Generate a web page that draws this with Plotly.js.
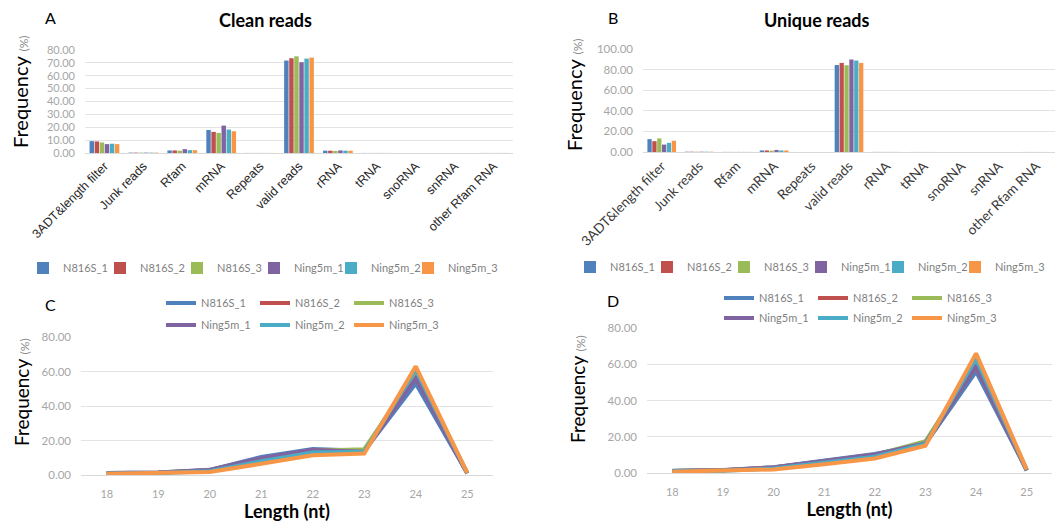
<!DOCTYPE html>
<html><head><meta charset="utf-8">
<script src="https://cdn.plot.ly/plotly-3.0.1.min.js"></script>
<style>html,body{margin:0;padding:0;background:#fff}#chart{width:1055px;height:525px}</style>
</head><body><div id="chart"></div>
<script>
const samples = ['N816S_1','N816S_2','N816S_3','Ning5m_1','Ning5m_2','Ning5m_3'];
const colors = ['#4F81BD','#C0504D','#9BBB59','#8064A2','#4BACC6','#F79646'];
const categories = ['3ADT&length filter','Junk reads','Rfam','mRNA','Repeats','valid reads','rRNA','tRNA','snoRNA','snRNA','other Rfam RNA'];
const lengths = ['18','19','20','21','22','23','24','25'];

// Panel A: clean reads (%)
const cleanN816S_1  = [9.2, 0.3, 2.0, 17.9, 0.05, 71.8, 1.8, 0.05, 0.02, 0.02, 0.05];
const cleanN816S_2  = [9.0, 0.3, 2.0, 16.4, 0.05, 73.6, 1.8, 0.05, 0.02, 0.02, 0.05];
const cleanN816S_3  = [8.2, 0.3, 1.8, 15.6, 0.05, 75.1, 1.6, 0.05, 0.02, 0.02, 0.05];
const cleanNing5m_1 = [6.9, 0.3, 3.0, 21.3, 0.05, 70.5, 2.0, 0.05, 0.02, 0.02, 0.05];
const cleanNing5m_2 = [7.2, 0.3, 2.2, 18.2, 0.05, 73.3, 1.8, 0.05, 0.02, 0.02, 0.05];
const cleanNing5m_3 = [6.9, 0.3, 2.2, 16.9, 0.05, 74.1, 1.8, 0.05, 0.02, 0.02, 0.05];

// Panel B: unique reads (%)
const uniqN816S_1  = [12.5, 0.3, 0.1, 1.5, 0.02, 84.5, 0.1, 0.05, 0.02, 0.02, 0.05];
const uniqN816S_2  = [10.5, 0.3, 0.1, 1.5, 0.02, 86.5, 0.1, 0.05, 0.02, 0.02, 0.05];
const uniqN816S_3  = [13.2, 0.3, 0.1, 1.3, 0.02, 84.2, 0.1, 0.05, 0.02, 0.02, 0.05];
const uniqNing5m_1 = [7.2, 0.3, 0.1, 2.0, 0.02, 89.8, 0.1, 0.05, 0.02, 0.02, 0.05];
const uniqNing5m_2 = [8.9, 0.3, 0.1, 1.5, 0.02, 88.8, 0.1, 0.05, 0.02, 0.02, 0.05];
const uniqNing5m_3 = [10.9, 0.3, 0.1, 1.5, 0.02, 86.5, 0.1, 0.05, 0.02, 0.02, 0.05];

// Panel C: length distribution, clean reads (%)
const lenCleanN816S_1  = [1.2, 1.5, 3.0, 10.5, 15.0, 14.0, 53.0, 1.0];
const lenCleanN816S_2  = [1.0, 1.3, 2.8, 9.5, 14.5, 14.5, 57.0, 1.0];
const lenCleanN816S_3  = [1.0, 1.3, 2.7, 9.0, 14.0, 15.0, 59.0, 1.0];
const lenCleanNing5m_1 = [1.1, 1.4, 2.9, 9.8, 14.5, 13.5, 56.0, 1.0];
const lenCleanNing5m_2 = [0.9, 1.1, 2.2, 8.0, 13.0, 13.5, 61.0, 1.2];
const lenCleanNing5m_3 = [0.7, 1.0, 1.8, 6.5, 11.5, 12.5, 63.0, 1.3];

// Panel D: length distribution, unique reads (%)
const lenUniqN816S_1  = [1.2, 1.6, 3.2, 7.0, 10.5, 16.0, 56.0, 1.5];
const lenUniqN816S_2  = [1.1, 1.5, 3.0, 6.5, 10.0, 16.5, 59.0, 1.5];
const lenUniqN816S_3  = [1.1, 1.5, 2.9, 6.3, 10.0, 17.5, 61.0, 1.5];
const lenUniqNing5m_1 = [1.1, 1.5, 3.1, 6.8, 10.2, 16.5, 59.5, 1.5];
const lenUniqNing5m_2 = [0.9, 1.3, 2.5, 5.5, 9.0, 16.0, 63.0, 1.8];
const lenUniqNing5m_3 = [0.7, 1.1, 2.0, 4.8, 8.0, 15.0, 66.0, 2.0];

const cleanSeries = [cleanN816S_1, cleanN816S_2, cleanN816S_3, cleanNing5m_1, cleanNing5m_2, cleanNing5m_3];
const uniqSeries = [uniqN816S_1, uniqN816S_2, uniqN816S_3, uniqNing5m_1, uniqNing5m_2, uniqNing5m_3];
const lenCleanSeries = [lenCleanN816S_1, lenCleanN816S_2, lenCleanN816S_3, lenCleanNing5m_1, lenCleanNing5m_2, lenCleanNing5m_3];
const lenUniqSeries = [lenUniqN816S_1, lenUniqN816S_2, lenUniqN816S_3, lenUniqNing5m_1, lenUniqNing5m_2, lenUniqNing5m_3];

const FONT = 'Lato, "Noto Sans", sans-serif';
const traces = [];
samples.forEach((s, i) => {
  traces.push({type:'bar', x:categories, y:cleanSeries[i], name:s, marker:{color:colors[i]},
    xaxis:'x', yaxis:'y', legend:'legend', legendwidth: i === 5 ? 50 : undefined});
});
samples.forEach((s, i) => {
  traces.push({type:'bar', x:categories, y:uniqSeries[i], name:s, marker:{color:colors[i]},
    xaxis:'x2', yaxis:'y2', legend:'legend2', legendwidth: i === 5 ? 50 : undefined});
});
samples.forEach((s, i) => {
  traces.push({type:'scatter', mode:'lines', x:lengths, y:lenCleanSeries[i], name:s,
    line:{color:colors[i], width:4}, xaxis:'x3', yaxis:'y3', legend: i < 3 ? 'legend3' : 'legend4'});
});
samples.forEach((s, i) => {
  traces.push({type:'scatter', mode:'lines', x:lengths, y:lenUniqSeries[i], name:s,
    line:{color:colors[i], width:4}, xaxis:'x4', yaxis:'y4', legend: i < 3 ? 'legend5' : 'legend6'});
});

const H = 525, W = 1055;
const px = v => v / W;
const py = v => (H - v) / H;

function yax(dom, range, dtick, fsize) {
  return {domain:[py(dom[0]), py(dom[1])], range:range, dtick:dtick, tickformat:'.2f',
    showgrid:true, gridcolor:'#e3e3e3', gridwidth:1, zeroline:false, showline:false, ticks:'',
    ticklabelstandoff:9, tickfont:{family:FONT, size:fsize, color:'#a6a6a6'}, fixedrange:true};
}
function catax(dom, font) {
  return {domain:[px(dom[0]), px(dom[1])], type:'category', tickangle:-45, ticks:'',
    showline:true, linecolor:'#d9d9d9', linewidth:1, showgrid:false,
    tickfont:font, fixedrange:true};
}
function lenax(dom) {
  return {domain:[px(dom[0]), px(dom[1])], type:'category', ticks:'', range:[-0.5, 7.5],
    showline:true, linecolor:'#d9d9d9', linewidth:1, showgrid:false,
    tickfont:{family:FONT, size:11, color:'#a6a6a6'}, ticklabelstandoff:9,
    title:{text:'<b>Length (nt)</b>', font:{family:FONT, size:18, color:'#000'}, standoff:4}, fixedrange:true};
}
function barLeg(x, y) {
  return {orientation:'h', x:px(x), y:py(y), xanchor:'center', yanchor:'middle',
    font:{family:FONT, size:11, color:'#7f7f7f'}, bgcolor:'rgba(0,0,0,0)', itemwidth:30,
    entrywidth:32, tracegroupgap:0};
}
function lineLeg(x, y) {
  return {orientation:'h', x:px(x), y:py(y), xanchor:'left', yanchor:'middle',
    font:{family:FONT, size:11, color:'#7f7f7f'}, bgcolor:'rgba(0,0,0,0)', itemwidth:30,
    entrywidth:49, tracegroupgap:0};
}
function ytitle(x, y, size) {
  return {text:'Frequency <span style="font-size:12px;color:#8c8c8c">(%)</span>', x:px(x), y:py(y),
    xref:'paper', yref:'paper', showarrow:false, textangle:-90, xanchor:'center', yanchor:'middle',
    font:{family:FONT, size:size, color:'#000'}};
}
function label(text, x, y, size) {
  return {text:text, x:px(x), y:py(y), xref:'paper', yref:'paper', showarrow:false,
    xanchor:'center', yanchor:'middle', font:{family:FONT, size:size, color:'#000'}};
}

const layout = {
  width:W, height:H, margin:{l:0, r:0, t:0, b:0, autoexpand:false}, paper_bgcolor:'#fff', plot_bgcolor:'#fff',
  barmode:'group', bargap:0.22, bargroupgap:0.12,
  font:{family:FONT},
  xaxis: catax([85, 513], {family:'"Liberation Sans", Arial, sans-serif', size:12.5, color:'#262626'}),
  yaxis: yax([153, 50], [0, 80], 10, 11),
  xaxis2: Object.assign(catax([643, 1055], {family:FONT, size:13.5, color:'#3a3a3a'}), {anchor:'y2'}),
  yaxis2: Object.assign(yax([152, 49], [0, 100], 20, 11.5), {anchor:'x2'}),
  xaxis3: Object.assign(lenax([81, 493]), {anchor:'y3'}),
  yaxis3: Object.assign(yax([475, 337], [0, 80], 20, 11.5), {anchor:'x3'}),
  xaxis4: Object.assign(lenax([647, 1052]), {anchor:'y4'}),
  yaxis4: Object.assign(yax([473, 328], [0, 80], 20, 11.5), {anchor:'x4'}),
  legend: barLeg(263, 268),
  legend2: barLeg(810, 267),
  legend3: lineLeg(161, 303),
  legend4: lineLeg(161, 325),
  legend5: lineLeg(719, 298),
  legend6: lineLeg(719, 318),
  showlegend:true,
  annotations:[
    label('<b>Clean reads</b>', 265, 20, 18),
    label('<b>Unique reads</b>', 817, 20, 18),
    label('A', 50, 17, 16),
    label('B', 613, 17, 16),
    label('C', 50, 305, 16),
    label('D', 613, 300, 16),
    ytitle(20, 92, 20),
    ytitle(574, 95, 20),
    ytitle(22, 392, 19),
    ytitle(577, 389, 19)
  ]
};

Plotly.newPlot('chart', traces, layout, {displayModeBar:false, staticPlot:true});
</script>
</body></html>
